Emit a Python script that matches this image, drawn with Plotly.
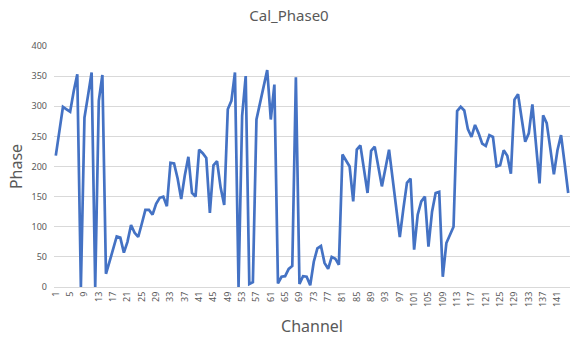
import plotly.graph_objects as go

channels = list(range(1, 145))
phase = [
    218, 258, 299, 295, 291, 325, 353, 0, 281, 318,
    356, 0, 309, 352, 22, 42, 65, 84, 82, 57,
    75, 103, 90, 83, 105, 128, 128, 120, 138, 148,
    150, 134, 206, 205, 180, 146, 185, 216, 156, 150,
    228, 222, 214, 123, 202, 209, 165, 136, 295, 309,
    356, 0, 284, 350, 5, 8, 278, 305, 335, 360,
    278, 336, 6, 17, 18, 30, 35, 348, 5, 18,
    17, 3, 42, 64, 68, 40, 30, 50, 47, 37,
    220, 210, 200, 142, 228, 235, 195, 156, 226, 233,
    200, 167, 197, 228, 180, 130, 83, 130, 173, 180,
    62, 120, 142, 150, 67, 125, 156, 158, 17, 73,
    88, 100, 292, 299, 293, 262, 249, 269, 255, 238,
    234, 252, 249, 200, 202, 227, 218, 188, 311, 320,
    280, 241, 255, 303, 237, 172, 285, 272, 230, 187,
    227, 252, 205, 156,
]
x_ticks = list(range(1, 145, 4))
y_ticks = list(range(0, 401, 50))

fig = go.Figure()
fig.add_trace(go.Scatter(
    x=channels, y=phase, mode="lines",
    line=dict(color="#4472C4", width=2.7),
    showlegend=False,
))

font_family = "Noto Sans"
fig.update_layout(
    width=578, height=339,
    margin=dict(l=54, r=8, t=46, b=52),
    paper_bgcolor="white", plot_bgcolor="white",
    title=dict(text="Cal_Phase0", x=0.5, xanchor="center", y=0.955, yanchor="middle",
               font=dict(family=font_family, size=15, color="#595959")),
    font=dict(family=font_family, color="#595959"),
)
fig.update_xaxes(
    range=[0.5, 144.5], tickmode="array", tickvals=x_ticks,
    ticktext=[str(v) for v in x_ticks], tickangle=-90,
    tickfont=dict(size=9, color="#595959"),
    showgrid=False, showline=True, linecolor="#d9d9d9", linewidth=1,
    ticks="", zeroline=False,
    title=dict(text="Channel", font=dict(size=16, color="#595959"), standoff=14),
)
fig.update_yaxes(
    range=[0, 400], tickmode="array", tickvals=y_ticks,
    tickfont=dict(size=9, color="#595959"),
    showgrid=True, gridcolor="#d9d9d9", gridwidth=1, zeroline=False,
    ticks="", ticklabelstandoff=6,
    title=dict(text="Phase", font=dict(size=16, color="#595959"), standoff=4),
)
fig.write_html("out.html")
